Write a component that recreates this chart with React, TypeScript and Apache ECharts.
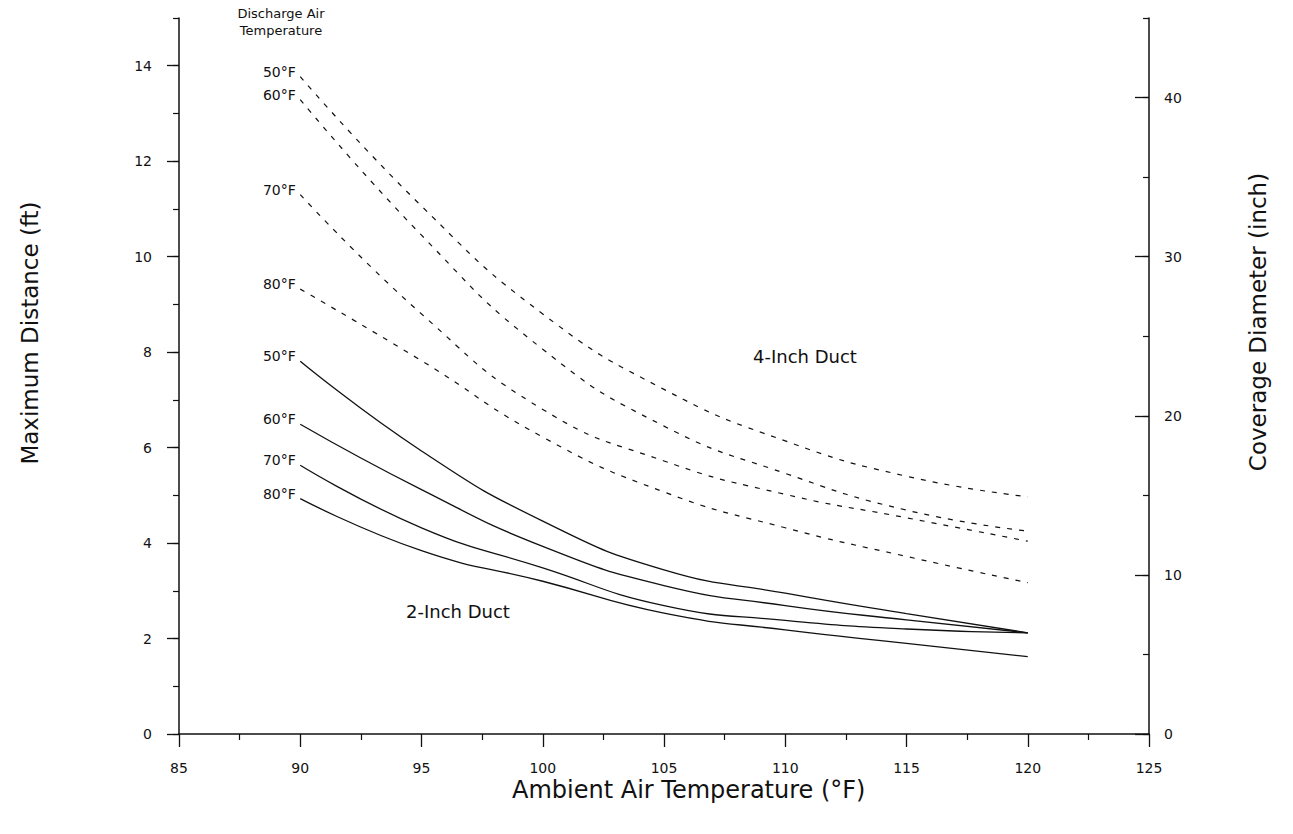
import React, { useEffect, useRef } from "react";
import * as echarts from "echarts";

// Ambient air temperature (°F)
const temps = [90, 95, 100, 105, 110, 115, 120];

// 4-inch duct, maximum distance (ft) by discharge air temperature
const duct4_50 = [13.77, 11.06, 8.8, 7.22, 6.14, 5.4, 4.97];
const duct4_60 = [13.29, 10.45, 8.06, 6.45, 5.46, 4.69, 4.25];
const duct4_70 = [11.3, 8.8, 6.8, 5.72, 5.02, 4.53, 4.04];
const duct4_80 = [9.32, 7.82, 6.22, 5.07, 4.32, 3.72, 3.17];

// 2-inch duct, maximum distance (ft)
const duct2_50 = [7.81, 5.93, 4.46, 3.44, 2.95, 2.52, 2.12];
const duct2_60 = [6.49, 5.12, 3.93, 3.11, 2.69, 2.39, 2.12];
const duct2_70 = [5.63, 4.32, 3.48, 2.69, 2.38, 2.2, 2.12];
const duct2_80 = [4.93, 3.84, 3.2, 2.53, 2.18, 1.9, 1.62];

const curveLabels = ["50°F", "60°F", "70°F", "80°F"];
const leftTicks = [0, 2, 4, 6, 8, 10, 12, 14];
const rightTicks = [0, 10, 20, 30, 40];

const FONT = "'DejaVu Sans', 'Liberation Sans', Arial, sans-serif";
const INK = "#111";

export default function App() {
  const ref = useRef<HTMLDivElement>(null);

  useEffect(() => {
    if (!ref.current) return;
    const chart = echarts.init(ref.current, null, { renderer: "svg" });

    const defs = [
      { data: duct4_50, dashed: true, label: curveLabels[0] },
      { data: duct4_60, dashed: true, label: curveLabels[1] },
      { data: duct4_70, dashed: true, label: curveLabels[2] },
      { data: duct4_80, dashed: true, label: curveLabels[3] },
      { data: duct2_50, dashed: false, label: curveLabels[0] },
      { data: duct2_60, dashed: false, label: curveLabels[1] },
      { data: duct2_70, dashed: false, label: curveLabels[2] },
      { data: duct2_80, dashed: false, label: curveLabels[3] },
    ];

    const series = defs.map((d) => ({
      type: "line",
      name: (d.dashed ? "4-Inch " : "2-Inch ") + d.label,
      xAxisIndex: 0,
      yAxisIndex: 0,
      smooth: 0.5,
      symbol: "circle",
      symbolSize: 1,
      showSymbol: true,
      silent: true,
      itemStyle: { color: "rgba(0,0,0,0)" },
      lineStyle: {
        color: INK,
        width: d.dashed ? 1.2 : 1.3,
        type: d.dashed ? [5, 7] : "solid",
      },
      data: temps.map((t, i) =>
        i === 0
          ? {
              value: [t, d.data[i]],
              label: {
                show: true,
                position: "left",
                distance: 4,
                offset: [0, -5],
                formatter: d.label,
                color: INK,
                fontSize: 14,
                fontFamily: FONT,
              },
            }
          : { value: [t, d.data[i]] }
      ),
    }));

    const option = {
      animation: false,
      backgroundColor: "#fff",
      textStyle: { fontFamily: FONT, color: INK },
      grid: { left: 179, right: 144, top: 18, bottom: 100, containLabel: false },
      xAxis: {
        type: "value",
        min: 85,
        max: 125,
        interval: 5,
        axisLine: { show: true, lineStyle: { color: INK, width: 1.5 } },
        axisTick: { show: true, length: 13, inside: false, lineStyle: { color: INK, width: 1.3 } },
        minorTick: { show: true, splitNumber: 2, length: 6, lineStyle: { color: INK, width: 1.2 } },
        axisLabel: { fontSize: 14, margin: 27, color: INK, fontFamily: FONT },
        splitLine: { show: false },
        minorSplitLine: { show: false },
      },
      yAxis: [
        {
          type: "value",
          position: "left",
          min: 0,
          max: 15,
          interval: 2,
          axisLine: { show: true, lineStyle: { color: INK, width: 1.5 } },
          axisTick: { show: true, length: 12, customValues: leftTicks, lineStyle: { color: INK, width: 1.3 } },
          axisLabel: {
            customValues: leftTicks,
            fontSize: 14,
            margin: 27,
            color: INK,
            fontFamily: FONT,
            formatter: (v: number) => (v > 14 ? "" : String(v)),
          },
          splitLine: { show: false },
        },
        {
          type: "value",
          position: "right",
          min: 0,
          max: 45,
          interval: 10,
          axisLine: { show: true, lineStyle: { color: INK, width: 1.5 } },
          axisTick: { show: true, inside: true, length: 14, customValues: rightTicks, lineStyle: { color: INK, width: 1.3 } },
          axisLabel: {
            customValues: rightTicks,
            fontSize: 14,
            margin: 15,
            color: INK,
            fontFamily: FONT,
            formatter: (v: number) => (v > 40 ? "" : String(v)),
          },
          splitLine: { show: false },
        },
        {
          type: "value",
          position: "left",
          min: 0,
          max: 15,
          interval: 1,
          axisLine: { show: false },
          axisTick: { show: true, length: 6, lineStyle: { color: INK, width: 1.2 } },
          axisLabel: { show: false },
          splitLine: { show: false },
        },
        {
          type: "value",
          position: "right",
          min: 0,
          max: 45,
          interval: 5,
          axisLine: { show: false },
          axisTick: { show: true, inside: true, length: 6, lineStyle: { color: INK, width: 1.2 } },
          axisLabel: { show: false },
          splitLine: { show: false },
        },
      ],
      graphic: [
        {
          type: "text",
          x: 281,
          y: 13,
          style: { text: "Discharge Air", fontSize: 13, fontFamily: FONT, fill: INK, align: "center", verticalAlign: "middle" },
        },
        {
          type: "text",
          x: 281,
          y: 30,
          style: { text: "Temperature", fontSize: 13, fontFamily: FONT, fill: INK, align: "center", verticalAlign: "middle" },
        },
        {
          type: "text",
          x: 753,
          y: 356,
          style: { text: "4-Inch Duct", fontSize: 18, fontFamily: FONT, fill: INK, align: "left", verticalAlign: "middle" },
        },
        {
          type: "text",
          x: 406,
          y: 611,
          style: { text: "2-Inch Duct", fontSize: 18, fontFamily: FONT, fill: INK, align: "left", verticalAlign: "middle" },
        },
        {
          type: "text",
          x: 512,
          y: 790,
          style: { text: "Ambient Air Temperature (°F)", fontSize: 24, fontFamily: FONT, fill: INK, align: "left", verticalAlign: "middle" },
        },
        {
          type: "text",
          x: 30,
          y: 333,
          rotation: Math.PI / 2,
          style: { text: "Maximum Distance (ft)", fontSize: 23, fontFamily: FONT, fill: INK, align: "center", verticalAlign: "middle" },
        },
        {
          type: "text",
          x: 1258,
          y: 322,
          rotation: Math.PI / 2,
          style: { text: "Coverage Diameter (inch)", fontSize: 23, fontFamily: FONT, fill: INK, align: "center", verticalAlign: "middle" },
        },
      ],
      series,
    };

    chart.setOption(option as any);
    return () => chart.dispose();
  }, []);

  return (
    <div
      ref={ref}
      style={{ position: "fixed", left: 0, top: 0, width: 1293, height: 834, background: "#fff" }}
    />
  );
}
